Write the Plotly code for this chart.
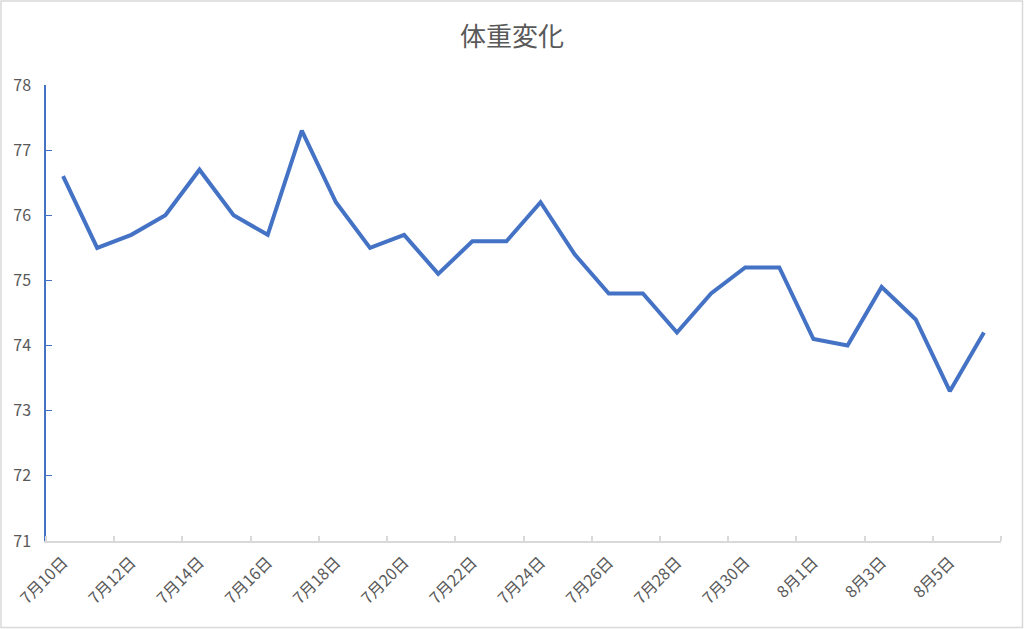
import plotly.graph_objects as go

dates = ["7月10日", "7月11日", "7月12日", "7月13日", "7月14日", "7月15日", "7月16日",
         "7月17日", "7月18日", "7月19日", "7月20日", "7月21日", "7月22日", "7月23日",
         "7月24日", "7月25日", "7月26日", "7月27日", "7月28日", "7月29日", "7月30日",
         "7月31日", "8月1日", "8月2日", "8月3日", "8月4日", "8月5日", "8月6日"]
weights = [76.6, 75.5, 75.7, 76.0, 76.7, 76.0, 75.7,
           77.3, 76.2, 75.5, 75.7, 75.1, 75.6, 75.6,
           76.2, 75.4, 74.8, 74.8, 74.2, 74.8, 75.2,
           75.2, 74.1, 74.0, 74.9, 74.4, 73.3, 74.2]
y_ticks = [71, 72, 73, 74, 75, 76, 77, 78]
title_text = "体重変化"

W, H = 1024, 629
L, R, T, B = 46, 23, 85, 88
pw, ph = W - L - R, H - T - B

xs = list(range(len(dates)))
label_idx = xs[::2]

font_family = "Noto Sans CJK JP, Noto Sans, sans-serif"
grey = "#595959"
blue = "#4472C4"

fig = go.Figure()
fig.add_trace(go.Scatter(
    x=xs, y=weights, mode="lines",
    line=dict(color=blue, width=4),
    hoverinfo="skip", showlegend=False,
))

fig.update_layout(
    width=W, height=H,
    margin=dict(l=L, r=R, t=T, b=B, pad=0, autoexpand=False),
    paper_bgcolor="white", plot_bgcolor="white",
    font=dict(family=font_family, color=grey, size=16),
    title=dict(text=title_text, x=0.5, xanchor="center", y=1 - 37 / H, yanchor="middle",
               font=dict(size=26, color=grey, family=font_family), automargin=False),
    xaxis=dict(
        range=[-0.5, len(dates) - 0.5],
        tickmode="array", tickvals=[xs[i] for i in label_idx],
        ticktext=[dates[i] for i in label_idx],
        tickangle=-45, ticks="", showgrid=False, zeroline=False,
        showline=True, linecolor="#D9D9D9", linewidth=1.5,
        tickfont=dict(size=16, color=grey),
        ticklabelstandoff=4,
        automargin=False,
        minor=dict(tickmode="linear", tick0=-0.5, dtick=2, ticks="inside",
                   ticklen=5, tickcolor="#D9D9D9", tickwidth=1.5, showgrid=False),
        fixedrange=True,
    ),
    yaxis=dict(
        range=[71, 78], tickmode="array", tickvals=y_ticks,
        ticks="inside", ticklen=6, tickcolor=blue, tickwidth=1,
        showline=True, linecolor=blue, linewidth=1.5,
        showgrid=False, zeroline=False,
        tickfont=dict(size=16, color=grey),
        ticklabelstandoff=10,
        automargin=False,
        fixedrange=True,
    ),
)

# chart-area border
fig.add_shape(type="rect", xref="paper", yref="paper",
              x0=(1 - L) / pw, x1=(W - 1.5 - L) / pw,
              y0=(H - B - (H - 1.5)) / ph, y1=(H - B - 1) / ph,
              line=dict(color="#D9D9D9", width=1.5), fillcolor="rgba(0,0,0,0)",
              layer="below")

fig.write_html("out.html", config={"displayModeBar": False},
               post_script="document.body.style.margin='0';document.body.style.overflow='hidden';")
